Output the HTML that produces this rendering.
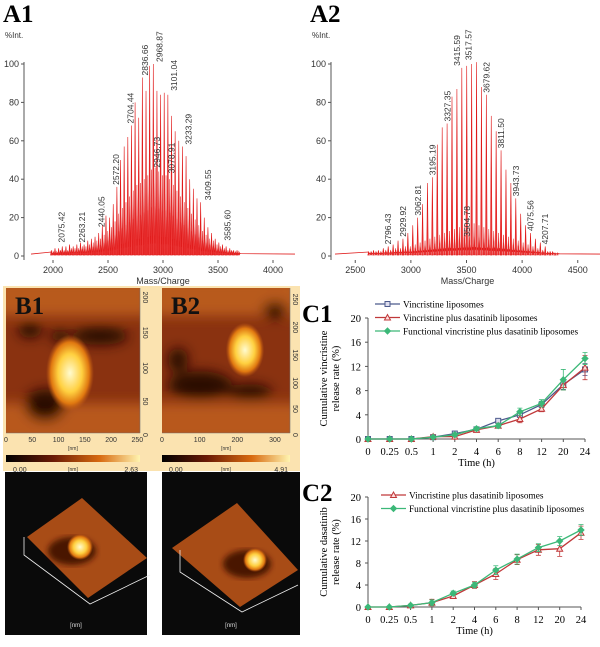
<!DOCTYPE html>
<html><head><meta charset="utf-8"><style>
html,body{margin:0;padding:0;background:#fff;}
svg{display:block;font-family:"Liberation Sans",sans-serif;}
.lbl{font-family:"Liberation Serif",serif;font-weight:bold;font-size:25px;}
.ser{font-family:"Liberation Serif",serif;}
</style></head><body>
<svg id="fig" width="600" height="647" viewBox="0 0 600 647" xmlns="http://www.w3.org/2000/svg">
<defs>
<filter id="blur4"><feGaussianBlur stdDeviation="6"/></filter>
<filter id="blur2"><feGaussianBlur stdDeviation="3"/></filter>
<linearGradient id="cbar" x1="0" x2="1" y1="0" y2="0"><stop offset="0" stop-color="#000"/><stop offset="0.35" stop-color="#6a1a05"/><stop offset="0.7" stop-color="#d86a10"/><stop offset="1" stop-color="#fff4b0"/></linearGradient>
<radialGradient id="blob"><stop offset="0" stop-color="#fffbd0"/><stop offset="0.5" stop-color="#ffd040"/><stop offset="0.8" stop-color="#e07810"/><stop offset="1" stop-color="#c05a14" stop-opacity="0"/></radialGradient>
<clipPath id="cB1"><rect x="6" y="288" width="134" height="145"/></clipPath>
<clipPath id="cB2"><rect x="162" y="288" width="128" height="145"/></clipPath>
</defs>
<g id="gA1"></g>
<g id="gA2"></g>
<g id="gB"></g>
<g id="gC1"></g>
<g id="gC2"></g>
</svg>
<script>
// ---- A1 spectrum data ----
const a1Start = 1985, a1Step = 33.1;
const a1Heights = [3,4,4,5,5,6,5,6,7,6,8,9,10,12,16,21,20,27,36,50,57,62,68,80,72,93,86,99,100,86,84,85,84,73,65,60,57,52,40,35,30,28,20,15,12,9,7,6,5,4,3,3];
const a1Minor = [2,2,3,3,3,4,4,4,5,5,6,7,8,9,11,13,15,18,22,25,28,31,34,37,38,40,42,45,46,44,42,42,40,37,34,31,28,25,22,19,16,13,11,9,8,6,5,4,3,3,2,2];
const a1Labels = ["2075.42","2263.21","2440.05","2572.20","2704.44","2836.66","2968.87","3101.04","3233.29","3409.55","3585.60","2946.73","3078.91"];
const a1LabelMass = [2075.42,2263.21,2440.05,2572.20,2704.44,2836.66,2968.87,3101.04,3233.29,3409.55,3585.60,2946.73,3078.91];
const a1LabelY = [6,6,14,36,68,93,100,85,57,28,7,45,42];
const a1Ticks = [2000,2500,3000,3500,4000];
// ---- A2 spectrum data ----
const a2Start = 2620, a2Step = 44.1;
const a2Heights = [2,3,3,4,5,6,8,9,12,16,20,27,38,41,58,67,69,83,87,98,99,100,101,88,84,73,65,55,45,38,30,22,16,12,9,7,5,2,1];
const a2Minor = [2,2,2,3,3,4,4,5,5,6,7,8,9,10,11,12,13,14,15,16,16,17,16,15,14,13,12,11,10,9,8,7,6,5,4,3,2,2,1];
const a2Labels = ["2796.43","2929.92","3062.81","3195.19","3327.35","3415.59","3517.57","3679.62","3811.50","3943.73","4075.56","4207.71","3504.78"];
const a2LabelMass = [2796.43,2929.92,3062.81,3195.19,3327.35,3415.59,3517.57,3679.62,3811.50,3943.73,4075.56,4207.71,3504.78];
const a2LabelY = [5,9,20,41,69,98,101,84,55,30,12,5,9];
const a2Ticks = [2500,3000,3500,4000,4500];
const yTicksA = [0,20,40,60,80,100];
// ---- C1 data ----
const timeCats = ["0","0.25","0.5","1","2","4","6","8","12","20","24"];
const c1Vl = [0,0,0,0.3,0.9,1.6,3.0,4.0,5.7,9.0,11.5];
const c1VlErr = [0,0,0,0.2,0.3,0.3,0.3,0.4,0.5,0.8,1.0];
const c1Vdl = [0,0,0,0.4,0.4,1.5,2.2,3.3,5.0,8.9,11.8];
const c1VdlErr = [0,0,0,0.3,0.2,0.3,0.4,0.6,0.5,0.8,2.0];
const c1Fvdl = [0,0,0,0.3,0.7,1.7,2.2,4.5,5.9,9.8,13.3];
const c1FvdlErr = [0,0,0,0.2,0.3,0.3,0.4,0.6,0.6,1.7,1.0];
// ---- C2 data ----
const c2Vdl = [0,0,0.3,0.8,2.0,4.0,6.0,8.6,10.4,10.6,13.5];
const c2VdlErr = [0,0,0.2,0.6,0.4,0.6,1.0,0.9,1.0,1.4,1.2];
const c2Fvdl = [0,0,0.3,0.8,2.5,4.0,6.7,8.7,10.8,12.0,14.0];
const c2FvdlErr = [0,0,0.2,0.5,0.4,0.5,0.8,0.9,0.7,0.8,1.0];
const yTicksC = [0,4,8,12,16,20];

const NS="http://www.w3.org/2000/svg";
function mk(tag, attrs, parent, text){const e=document.createElementNS(NS,tag);for(const k in attrs)e.setAttribute(k,attrs[k]);if(text!==undefined)e.textContent=text;parent.appendChild(e);return e;}

function spectrum(g, o){
  const t=mk('text',{x:o.ax-21,y:o.lblY,class:'lbl'},g,o.name);
  
  
  const xs=m=>o.x0+(m-o.m0)*(o.x1-o.x0)/(o.m1-o.m0);
  const ys=v=>o.y0+(o.y100-o.y0)*v/100;
  const it=mk('text',{x:o.ax-19,y:38,'font-size':'8','fill':'#333'},g,'%Int.');
  
  
  const ya=mk('line',{x1:o.ax,x2:o.ax,y1:ys(100)-2,y2:o.y0+4,stroke:'#555','stroke-width':1},g);
  
  
  o.yt.forEach(v=>{
    mk('line',{x1:o.ax-3,x2:o.ax,y1:ys(v),y2:ys(v),stroke:'#555'},g);
    const tl=mk('text',{x:o.ax-5,y:ys(v)+3,'font-size':'9','text-anchor':'end',fill:'#333'},g,v);
    
    
  });
  o.xt.forEach(v=>{
    mk('line',{x1:xs(v),x2:xs(v),y1:o.y0+4,y2:o.y0+7,stroke:'#555'},g);
    const tl=mk('text',{x:xs(v),y:o.y0+17,'font-size':'9','text-anchor':'middle',fill:'#333'},g,v);
    
    
  });
  const xt=mk('text',{x:(o.x0+o.x1)/2,y:o.y0+28,'font-size':'9','text-anchor':'middle',fill:'#333'},g,'Mass/Charge');
  
  
  let d='M'+o.x0+' '+ys(1);
  for(let i=0;i<o.minor.length;i++){
    const m=o.start+i*o.step;
    for(let k=0;k<4;k++){const mm=m+k*o.step/4;const h=o.minor[i]*(k%2?0.35:0.9)*0.6+1;d+=' L'+xs(mm).toFixed(1)+' '+ys(h).toFixed(1)+' L'+(xs(mm)+0.8).toFixed(1)+' '+ys(1+o.minor[i]*0.12).toFixed(1);}
  }
  d+=' L'+o.x1+' '+ys(1);
  const bl=mk('path',{d:d,fill:'none',stroke:'#e02020','stroke-width':0.8},g);
  
  
  o.minor.forEach((h,i)=>{const x=xs(o.start+i*o.step+o.step/2);
    const p=mk('path',{d:`M${x-0.9} ${ys(0.5)} L${x} ${ys(h)} L${x+0.9} ${ys(0.5)}Z`,fill:'#e83030',stroke:'#e02020','stroke-width':0.4},g);
    
    
  });
  o.heights.forEach((h,i)=>{const x=xs(o.start+i*o.step);
    const p=mk('path',{d:`M${x-0.8} ${ys(0.5)} L${x} ${ys(h)} L${x+0.8} ${ys(0.5)}Z`,fill:'#f04040',stroke:'#e01818','stroke-width':0.6},g);
    
    
  });
  o.labels.forEach((s,i)=>{const x=xs(o.lm[i]);const y=ys(o.ly[i])-2;
    const tl=mk('text',{x:x+3,y:y,'font-size':'8.5',fill:'#333',transform:`rotate(-90 ${x+3} ${y})`},g,s);
    
    
  });
}
spectrum(document.getElementById('gA1'),{name:'A1',lblY:22,ax:24,x0:31,x1:295,m0:1800,m1:4200,y0:256,y100:64,yt:yTicksA,xt:a1Ticks,heights:a1Heights,minor:a1Minor,start:a1Start,step:a1Step,labels:a1Labels,lm:a1LabelMass,ly:a1LabelY});
spectrum(document.getElementById('gA2'),{name:'A2',lblY:22,ax:331,x0:335,x1:600,m0:2318,m1:4700,y0:256,y100:64,yt:yTicksA,xt:a2Ticks,heights:a2Heights,minor:a2Minor,start:a2Start,step:a2Step,labels:a2Labels,lm:a2LabelMass,ly:a2LabelY});

// ---- B panels ----
(function(){
const g=document.getElementById('gB');
const bg=mk('rect',{x:3,y:286,width:297,height:185,fill:'#fbe3b0'},g);


function map2d(cl,x,y,w,h,blob,darks,label,xt,yt,maxv,xmax,ymax){
  const gg=mk('g',{'clip-path':`url(#${cl})`},g);
  
  
  mk('rect',{x:x,y:y,width:w,height:h,fill:'#8a3210'},gg);
  const fg=mk('g',{filter:'url(#blur4)'},gg);
  mk('rect',{x:x-10,y:y-10,width:w+20,height:38,fill:'#b85a1c'},fg);
  mk('rect',{x:x-10,y:y+h-30,width:w+20,height:40,fill:'#b8581c'},fg);
  darks.forEach(dd=>mk('ellipse',{cx:dd[0],cy:dd[1],rx:dd[2],ry:dd[3],fill:'#2a0802'},fg));
  mk('ellipse',{cx:blob[0],cy:blob[1],rx:blob[2]*1.6,ry:blob[3]*1.6,fill:'url(#blob)'},gg);
  const L=mk('text',{x:x+9,y:y+26,class:'lbl',fill:'#111'},g,label);
  
  
  mk('line',{x1:x,x2:x+w,y1:y+h,y2:y+h,stroke:'#777','stroke-width':0.6},g);
  mk('line',{x1:x+w,x2:x+w,y1:y,y2:y+h,stroke:'#777','stroke-width':0.6},g);
  xt.forEach(v=>{const xx=x+v/xmax*w;const t=mk('text',{x:xx,y:y+h+9,'font-size':'7','text-anchor':'middle',fill:'#333'},g,v);
    
    });
  yt.forEach(v=>{const yy=y+h-v/ymax*h;const t=mk('text',{x:x+w+3,y:yy,'font-size':'7',fill:'#333',transform:`rotate(90 ${x+w+3} ${yy})`},g,v);
    
    });
  mk('text',{x:x+w/2,y:y+h+17,'font-size':'5','text-anchor':'middle',fill:'#333'},g,'[nm]');
  const cb=mk('rect',{x:x,y:y+h+22,width:w,height:7,fill:'url(#cbar)'},g);
  
  
  mk('text',{x:x+7,y:y+h+39,'font-size':'7',fill:'#333'},g,'0.00');
  mk('text',{x:x+w/2,y:y+h+38,'font-size':'5','text-anchor':'middle',fill:'#333'},g,'[nm]');
  mk('text',{x:x+w-2,y:y+h+39,'font-size':'7','text-anchor':'end',fill:'#333'},g,maxv);
}
map2d('cB1',6,288,134,145,[70,373,15,24],[[45,405,20,16],[100,336,28,9],[30,330,12,8],[60,336,10,6]],'B1',[0,50,100,150,200,250],[0,50,100,150,200],'2.63',255,205);
map2d('cB2',162,288,128,145,[245,350,12,17],[[200,385,32,14],[250,392,22,8],[275,310,12,8],[178,360,10,12]],'B2',[0,100,200,300],[0,50,100,150,200,250],'4.91',340,260);
function map3d(x,w,pts,blob,ax){
  const bk=mk('rect',{x:x,y:472,width:w,height:163,fill:'#0a0a0a'},g);
  
  
  const s=mk('polygon',{points:pts.map(p=>p.join(',')).join(' '),fill:'#a84c16'},g);
  
  
  mk('ellipse',{cx:blob[0]-8,cy:blob[1]+4,rx:24,ry:14,fill:'#4a1404',filter:'url(#blur2)'},g);
  mk('circle',{cx:blob[0],cy:blob[1],r:blob[2],fill:'url(#blob)'},g);
  mk('polyline',{points:ax.map(p=>p.join(',')).join(' '),fill:'none',stroke:'#eee','stroke-width':0.8},g);
  mk('text',{x:x+w/2,y:627,'font-size':'6','text-anchor':'middle',fill:'#ddd'},g,'[nm]');
}
map3d(5,142,[[27,537],[82,498],[147,558],[88,598]],[80,547,13],[[24,537],[24,555],[90,604],[150,575]]);
map3d(162,138,[[172,548],[237,503],[298,570],[240,607]],[255,560,12],[[180,550],[180,572],[242,612],[298,585]]);
})();

// ---- C charts ----
function relChart(g,o){
  const L=mk('text',{x:o.x0-66,y:o.yTop+4,class:'lbl'},g,o.name);
  
  
  const ys=v=>o.y0+(o.yTop-o.y0)*v/20;
  const xs=i=>o.x0+i*(o.x1-o.x0)/(timeCats.length-1);
  const ya=mk('line',{x1:o.x0,x2:o.x0,y1:o.yTop,y2:o.y0,stroke:'#555'},g);
  
  
  const xa=mk('line',{x1:o.x0,x2:o.x1,y1:o.y0,y2:o.y0,stroke:'#555'},g);
  
  
  yTicksC.forEach(v=>{mk('line',{x1:o.x0-3,x2:o.x0,y1:ys(v),y2:ys(v),stroke:'#555'},g);
    const t=mk('text',{x:o.x0-7,y:ys(v)+4,'font-size':'10.5','text-anchor':'end',class:'ser'},g,v);
    
    });
  timeCats.forEach((c,i)=>{mk('line',{x1:xs(i),x2:xs(i),y1:o.y0,y2:o.y0+3,stroke:'#555'},g);
    const t=mk('text',{x:xs(i),y:o.y0+16,'font-size':'10.5','text-anchor':'middle',class:'ser'},g,c);
    
    });
  const xt=mk('text',{x:(o.x0+o.x1)/2,y:o.y0+27,'font-size':'10.5','text-anchor':'middle',class:'ser'},g,'Time (h)');
  
  
  const cy=(o.y0+o.yTop)/2;
  const yt=mk('text',{'font-size':'10.5','text-anchor':'middle',class:'ser',transform:`translate(${o.x0-41},${cy}) rotate(-90)`},g,o.yl1);
  
  
  mk('text',{'font-size':'10.5','text-anchor':'middle',class:'ser',transform:`translate(${o.x0-29},${cy}) rotate(-90)`},g,o.yl2);
  o.series.forEach((s,si)=>{
    const sg=mk('g',{},g);
    
    
    s.vals.forEach((v,i)=>{const e=s.err[i];if(e>0){const x=xs(i);
      mk('path',{d:`M${x} ${ys(v-e)} V${ys(v+e)} M${x-2.5} ${ys(v-e)} H${x+2.5} M${x-2.5} ${ys(v+e)} H${x+2.5}`,stroke:s.col,'stroke-width':0.8,fill:'none'},sg);}});
    const ln=mk('polyline',{points:s.vals.map((v,i)=>xs(i).toFixed(1)+','+ys(v).toFixed(1)).join(' '),fill:'none',stroke:s.col,'stroke-width':1.3},sg);
    
    
    s.vals.forEach((v,i)=>marker(sg,s.mk,xs(i),ys(v),s.col));
    const ly=o.legY+si*13.5;
    const le=mk('g',{},g);
    
    
    mk('line',{x1:o.legX,x2:o.legX+25,y1:ly,y2:ly,stroke:s.col,'stroke-width':1.3},le);
    marker(le,s.mk,o.legX+12.5,ly,s.col);
    mk('text',{x:o.legX+28,y:ly+3.5,'font-size':'9.3',class:'ser'},le,s.label);
  });
}
function marker(g,t,x,y,c){
  if(t==='sq')mk('rect',{x:x-2.5,y:y-2.5,width:5,height:5,fill:'#dde',stroke:c,'stroke-width':1},g);
  else if(t==='tri')mk('polygon',{points:`${x},${y-3} ${x-3},${y+2.5} ${x+3},${y+2.5}`,fill:'#fdd',stroke:c,'stroke-width':1},g);
  else mk('polygon',{points:`${x},${y-3} ${x+3},${y} ${x},${y+3} ${x-3},${y}`,fill:c,stroke:c},g);
}
const BLUE='#4c5a8c',RED='#c0393a',GREEN='#3cb878';
relChart(document.getElementById('gC1'),{name:'C1',x0:368,x1:585,y0:439,yTop:318,legX:375,legY:304,yl1:'Cumulative vincristine',yl2:'release rate (%)',
  series:[{key:'vl',vals:c1Vl,err:c1VlErr,col:BLUE,mk:'sq',label:'Vincristine liposomes'},
          {key:'vdl',vals:c1Vdl,err:c1VdlErr,col:RED,mk:'tri',label:'Vincristine plus dasatinib liposomes'},
          {key:'fvdl',vals:c1Fvdl,err:c1FvdlErr,col:GREEN,mk:'dia',label:'Functional vincristine plus dasatinib liposomes'}]});
relChart(document.getElementById('gC2'),{name:'C2',x0:368,x1:581,y0:607,yTop:497,legX:381,legY:495,yl1:'Cumulative dasatinib',yl2:'release rate (%)',
  series:[{key:'vdl',vals:c2Vdl,err:c2VdlErr,col:RED,mk:'tri',label:'Vincristine plus dasatinib liposomes'},
          {key:'fvdl',vals:c2Fvdl,err:c2FvdlErr,col:GREEN,mk:'dia',label:'Functional vincristine plus dasatinib liposomes'}]});
</script>
</body></html>
